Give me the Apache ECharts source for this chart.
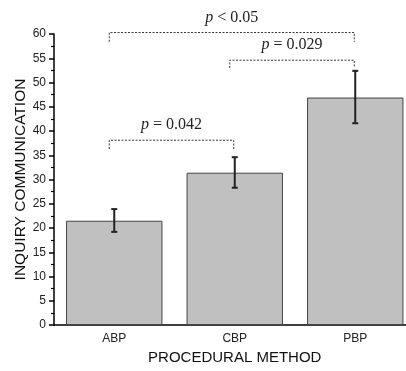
<!DOCTYPE html>
<html>
<head>
<meta charset="utf-8">
<script src="https://cdn.jsdelivr.net/npm/echarts@6/dist/echarts.min.js"></script>
<style>
  html, body { margin: 0; padding: 0; background: #fff; }
  #chart { width: 406px; height: 371px; }
</style>
</head>
<body>
<div id="chart"></div>
<script>
// bar means and error bar limits
const categories = ["ABP", "CBP", "PBP"];
const means = [21.5, 31.4, 46.9];
const errLow = [19.2, 28.3, 41.6];
const errHigh = [23.9, 34.6, 52.4];

// significance brackets
const bracketFrom = [0, 1, 0];
const bracketTo = [1, 2, 2];
const bracketTop = [38.1, 54.6, 60.3];
const bracketEnd = [36.3, 53.0, 58.4];
const bracketOp = ["=", "=", "<"];
const bracketP = ["0.042", "0.029", "0.05"];

const chart = echarts.init(document.getElementById("chart"), null, { renderer: "canvas" });

const errData = categories.map((c, i) => [i, errLow[i], errHigh[i]]);
const bracketData = bracketFrom.map((f, i) => [f, bracketTo[i], bracketTop[i], bracketEnd[i], i]);

const option = {
  animation: false,
  grid: { left: 54, top: 34, width: 361.5, bottom: 46, outerBoundsMode: "none", containLabel: false },
  xAxis: {
    type: "category",
    data: categories,
    name: "PROCEDURAL METHOD",
    nameLocation: "middle",
    nameGap: 22,
    nameTextStyle: { fontFamily: "Liberation Sans", fontSize: 15, color: "#111" },
    axisLine: { lineStyle: { color: "#000", width: 1.5 } },
    axisTick: { alignWithLabel: true, length: 5, lineStyle: { color: "#000", width: 1.5 } },
    axisLabel: { fontFamily: "Liberation Sans", fontSize: 12, color: "#222", margin: 8 },
  },
  yAxis: {
    type: "value",
    min: 0,
    max: 60,
    interval: 5,
    name: "INQUIRY COMMUNICATION",
    nameLocation: "middle",
    nameGap: 25,
    nameMoveOverlap: false,
    nameTextStyle: { fontFamily: "Liberation Sans", fontSize: 15.5, color: "#111" },
    splitLine: { show: false },
    axisLine: { show: true, lineStyle: { color: "#000", width: 1.5 } },
    axisTick: { show: true, length: 5, lineStyle: { color: "#000", width: 1.5 } },
    minorTick: { show: true, splitNumber: 2, length: 3, lineStyle: { color: "#000", width: 1.2 } },
    axisLabel: { fontFamily: "Liberation Sans", fontSize: 12, color: "#222", margin: 8 },
  },
  series: [
    {
      type: "bar",
      data: means,
      barWidth: "80%",
      itemStyle: { color: "#c0c0c0", borderColor: "#444", borderWidth: 1 },
      z: 2,
    },
    {
      type: "custom",
      data: errData,
      z: 3,
      renderItem: (params, api) => {
        const top = api.coord([api.value(0), api.value(2)]);
        const bot = api.coord([api.value(0), api.value(1)]);
        const x = top[0];
        const w = 3;
        const st = { stroke: "#222", lineWidth: 2 };
        return {
          type: "group",
          children: [
            { type: "line", shape: { x1: x, y1: top[1], x2: x, y2: bot[1] }, style: st },
            { type: "line", shape: { x1: x - w, y1: top[1], x2: x + w, y2: top[1] }, style: st },
            { type: "line", shape: { x1: x - w, y1: bot[1], x2: x + w, y2: bot[1] }, style: st },
          ],
        };
      },
    },
    {
      type: "custom",
      data: bracketData,
      z: 3,
      clip: false,
      renderItem: (params, api) => {
        const i = api.value(4);
        const a = api.coord([api.value(0), api.value(2)]);
        const b = api.coord([api.value(1), api.value(2)]);
        const yEnd = api.coord([api.value(0), api.value(3)])[1];
        const x1 = a[0] - 5;
        const x2 = b[0] - 1;
        const y = a[1];
        return {
          type: "group",
          children: [
            {
              type: "polyline",
              shape: { points: [[x1, yEnd], [x1, y], [x2, y], [x2, yEnd]] },
              style: { stroke: "#333", lineWidth: 1, lineDash: [2, 1.5], fill: null },
            },
            {
              type: "text",
              x: (x1 + x2) / 2,
              y: y - 7,
              style: {
                text: "{i|p} " + bracketOp[i] + " " + bracketP[i],
                fontFamily: "Liberation Serif",
                fontSize: 16,
                fill: "#222",
                align: "center",
                verticalAlign: "bottom",
                rich: { i: { fontStyle: "italic", fontFamily: "Liberation Serif", fontSize: 16, fill: "#222" } },
              },
            },
          ],
        };
      },
    },
  ],
};

chart.setOption(option);
</script>
</body>
</html>
